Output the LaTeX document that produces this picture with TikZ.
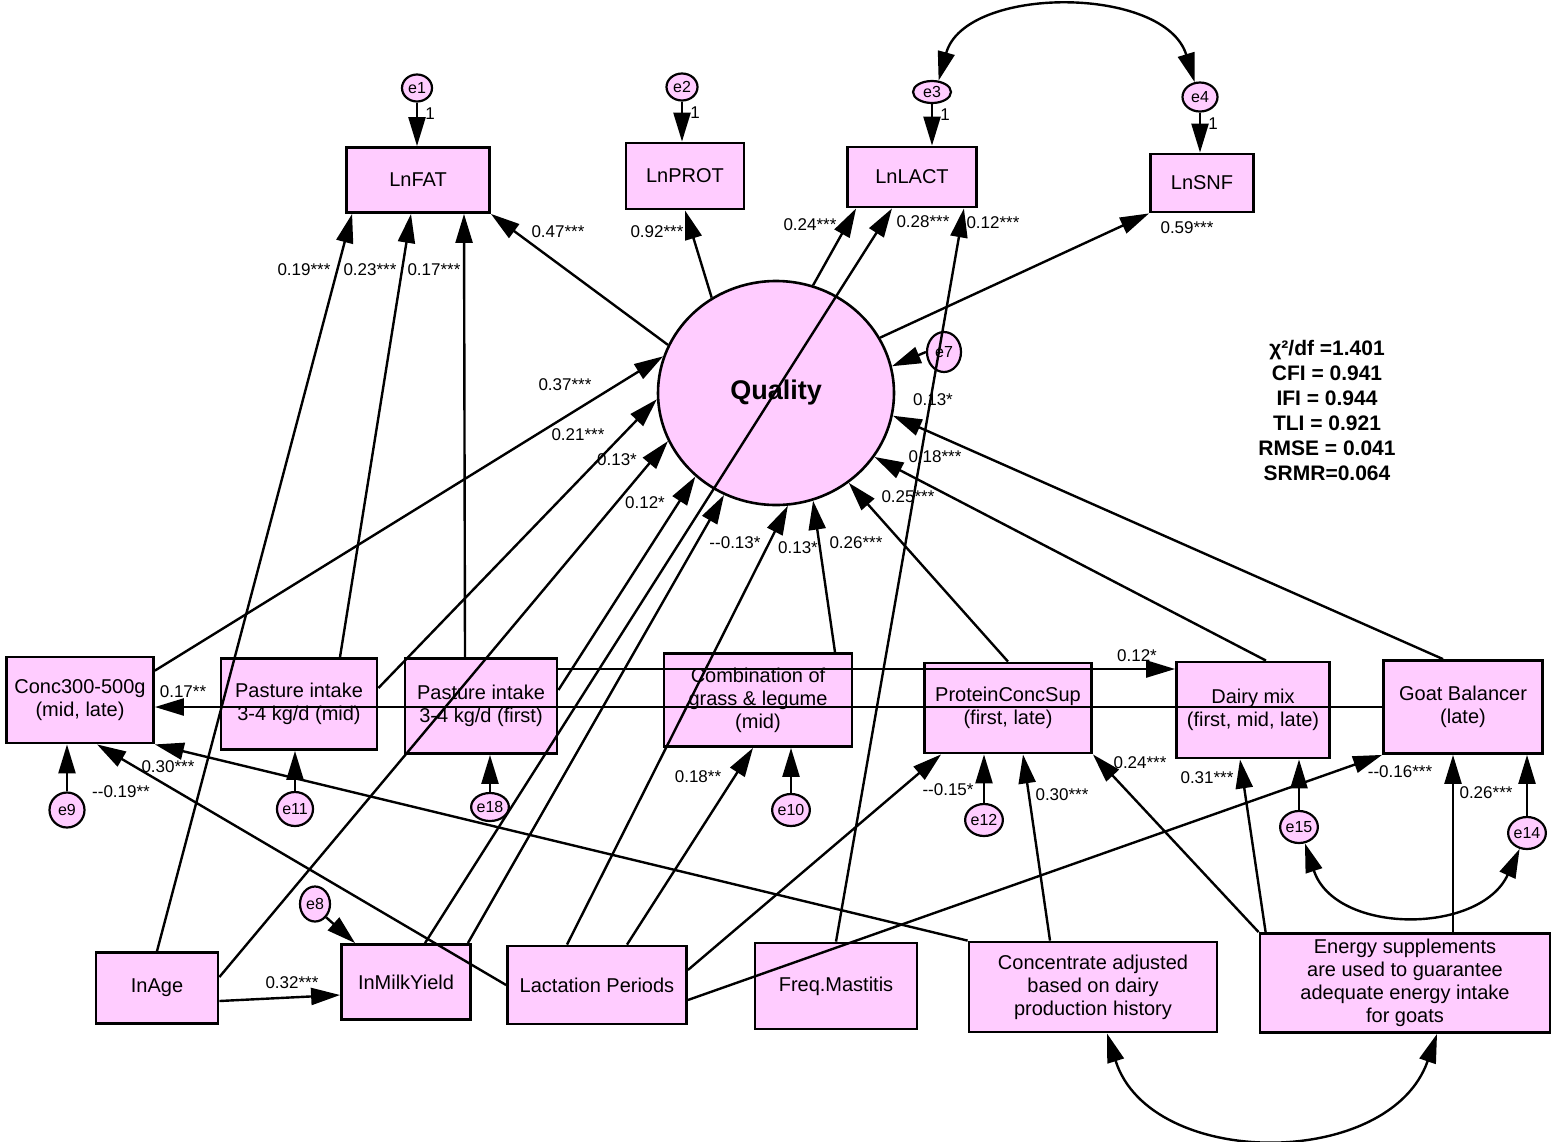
\documentclass[tikz,border=0pt]{standalone}
\usepackage{fontspec}
\setmainfont{Liberation Sans}
\usepackage{tikz}
\usepackage{xcolor}
\usetikzlibrary{arrows.meta, shapes.geometric}
\definecolor{boxpink}{RGB}{255,204,255}

\begin{document}
\begin{tikzpicture}[x=1pt, y=-1pt,
    >={Triangle[length=29pt,width=17pt]},
    obs/.style={draw, line width=2.8pt, fill=boxpink, align=center,
        font=\fontsize{20}{23}\selectfont, inner sep=0pt},
    err/.style={draw, ellipse, line width=2.2pt, fill=boxpink, inner sep=0pt,
        font=\fontsize{16}{16}\selectfont},
    arr/.style={->, line width=2.4pt},
    cov/.style={<->, line width=2.4pt},
    coef/.style={font=\fontsize{17}{17}\selectfont, inner sep=0pt}]
    \useasboundingbox (0,0) rectangle (1562,1141);

    % Milk components
    \node[obs, minimum width=143pt, minimum height=65pt] (fat)  at (418,180) {LnFAT};
    \node[obs, minimum width=118pt, minimum height=66pt] (prot) at (685,176) {LnPROT};
    \node[obs, minimum width=129pt, minimum height=60pt] (lact) at (912,177) {LnLACT};
    \node[obs, minimum width=103pt, minimum height=58pt] (snf)  at (1202,183) {LnSNF};

    % Latent variable
    \node[draw, ellipse, line width=2.6pt, fill=boxpink, minimum width=236pt, minimum height=224pt,
        font=\fontsize{27}{27}\selectfont\bfseries] (quality) at (776,393) {Quality};

    % Feeding practices
    \node[obs, minimum width=147pt, minimum height=86pt] (conc)      at (80,700)   {Conc300-500g\\(mid, late)};
    \node[obs, minimum width=156pt, minimum height=91pt] (pastmid)   at (299,704)  {Pasture intake\\3-4 kg/d (mid)};
    \node[obs, minimum width=152pt, minimum height=95pt] (pastfirst) at (481,706)  {Pasture intake\\3-4 kg/d (first)};
    \node[obs, minimum width=188pt, minimum height=93pt] (combi)     at (758,700)  {Combination of\\grass \& legume\\(mid)};
    \node[obs, minimum width=167pt, minimum height=90pt] (protein)   at (1008,708) {ProteinConcSup\\(first, late)};
    \node[obs, minimum width=153pt, minimum height=96pt] (dairy)     at (1253,710) {Dairy mix\\(first, mid, late)};
    \node[obs, minimum width=159pt, minimum height=93pt] (goat)      at (1463,707) {Goat Balancer\\(late)};

    % Animal and management variables
    \node[obs, minimum width=122pt, minimum height=71pt] (age)      at (157,988)  {InAge};
    \node[obs, minimum width=129pt, minimum height=75pt] (milk)     at (406,982)  {InMilkYield};
    \node[obs, minimum width=179pt, minimum height=78pt] (lactper)  at (597,985)  {Lactation Periods};
    \node[obs, minimum width=162pt, minimum height=86pt] (mastitis) at (836,986)  {Freq.Mastitis};
    \node[obs, minimum width=248pt, minimum height=90pt] (concadj)  at (1093,987) {Concentrate adjusted\\based on dairy\\production history};
    \node[obs, minimum width=290pt, minimum height=99pt] (energy)   at (1405,983) {Energy supplements\\are used to guarantee\\adequate energy intake\\for goats};

    % Error terms
    \node[err, minimum width=30pt, minimum height=27pt] (e1) at (417,88)  {e1};
    \node[err, minimum width=31pt, minimum height=27pt] (e2) at (682,87)  {e2};
    \node[err, minimum width=38pt, minimum height=22pt] (e3) at (932,92)  {e3};
    \node[err, minimum width=35pt, minimum height=29pt] (e4) at (1200,97) {e4};
    \node[err, minimum width=34pt, minimum height=40pt] (e7) at (944,352) {e7};
    \node[err, minimum width=30pt, minimum height=35pt] (e8) at (315,904) {e8};
    \node[err, minimum size=35pt] (e9)  at (67,810)   {e9};
    \node[err, minimum size=34pt] (e11) at (295,809)  {e11};
    \node[err, minimum size=28pt] (e18) at (490,807)  {e18};
    \node[err, minimum size=32pt] (e10) at (791,810)  {e10};
    \node[err, minimum size=32pt] (e12) at (984,820)  {e12};
    \node[err, minimum size=32pt] (e15) at (1299,827) {e15};
    \node[err, minimum size=32pt] (e14) at (1527,833) {e14};

    % Error arrows
    \foreach \e/\v in {e1/fat, e2/prot, e3/lact, e4/snf}
        \draw[arr] (\e.south) -- (\e.south |- \v.north);
    \foreach \e in {e1, e2, e3, e4}
        \node[coef] (one\e) at ([xshift=13pt, yshift=-11pt]\e.south) {1};
    \foreach \e/\v in {e9/conc, e11/pastmid, e18/pastfirst, e10/combi, e12/protein, e15/dairy, e14/goat}
        \draw[arr] (\e.north) -- (\e.north |- \v.south);
    \draw[arr] (e7.west) -- (quality.13);
    \draw[arr] (e8.-50) -- ([xshift=15pt]milk.north west);

    % Loadings of Quality
    \draw[arr] (quality.156) -- (fat.south east);
    \draw[arr] (quality.124) -- (prot.south);
    \draw[arr] (quality.71) -- ([xshift=10pt]lact.south west);
    \draw[arr] (quality.28) -- (snf.south west);

    % Direct paths to the components
    \draw[arr] (age.north) -- ([xshift=7pt]fat.south west);
    \draw[arr] ([xshift=41pt]pastmid.north) -- ([xshift=-7pt]fat.south);
    \draw[arr] ([xshift=-16pt]pastfirst.north) -- ([xshift=46pt]fat.south);
    \draw[arr] ([xshift=19pt]milk.north) -- ([xshift=-20pt]lact.south);
    \draw[arr] (mastitis.north) -- ([xshift=-14pt]lact.south east);

    % Paths to Quality
    \draw[arr] ([yshift=-15pt]conc.north east) -- (quality.162);
    \draw[arr] ([yshift=16pt]pastmid.east) -- (quality.183);
    \draw[arr] ([yshift=11pt]age.east) -- (quality.204);
    \draw[arr] ([yshift=16pt]pastfirst.east) -- (quality.226);
    \draw[arr] ([xshift=-4pt]milk.north east) -- (quality.243);
    \draw[arr] ([xshift=-30pt]lactper.north) -- (quality.276);
    \draw[arr] ([xshift=77pt]combi.north) -- (quality.289);
    \draw[arr] (protein.north) -- (quality.309);
    \draw[arr] ([xshift=13pt]dairy.north) -- (quality.327);
    \draw[arr] ([xshift=-20pt]goat.north) -- (quality.349);

    % Paths between the predictors
    \draw[arr] (goat.west) -- (goat.west -| conc.east);
    \draw[arr] (concadj.north west) -- (conc.south east);
    \draw[arr] (lactper.west) -- ([xshift=17pt]conc.south);
    \draw[arr] ([yshift=37pt]pastfirst.east) -- ([yshift=37pt]pastfirst.east -| dairy.west);
    \draw[arr] ([xshift=30pt]lactper.north) -- ([xshift=-5pt]combi.south);
    \draw[arr] ([yshift=15pt]lactper.east) -- ([xshift=18pt]protein.south west);
    \draw[arr] ([xshift=-43pt]concadj.north) -- ([xshift=15pt]protein.south);
    \draw[arr] (energy.north west) -- (protein.south east);
    \draw[arr] ([xshift=7pt]energy.north west) -- ([xshift=-13pt]dairy.south);
    \draw[arr] ([yshift=-15pt]lactper.east) -- (goat.south west);
    \draw[arr] ([xshift=48pt]energy.north) -- ([xshift=-10pt]goat.south);
    \draw[arr] ([yshift=-13pt]age.east) -- ([yshift=-13pt]milk.west);

    % Covariances
    \draw[cov] (e3.60) .. controls (965,-15) and (1165,-15) .. (e4.110);
    \draw[cov] (e15.-70) .. controls (1335,935) and (1480,935) .. (e14.-115);
    \draw[cov] ([xshift=14pt]concadj.south) .. controls (1150,1170) and (1390,1170) .. ([xshift=32pt]energy.south);

    % Coefficients
    \node[coef] (c1)  at (304,270)  {0.19***};
    \node[coef] (c2)  at (370,270)  {0.23***};
    \node[coef] (c3)  at (434,270)  {0.17***};
    \node[coef] (c4)  at (558,232)  {0.47***};
    \node[coef] (c5)  at (657,232)  {0.92***};
    \node[coef] (c6)  at (810,225)  {0.24***};
    \node[coef] (c7)  at (923,222)  {0.28***};
    \node[coef] (c8)  at (993,223)  {0.12***};
    \node[coef] (c9)  at (1187,228) {0.59***};
    \node[coef] (c10) at (565,385)  {0.37***};
    \node[coef] (c11) at (578,435)  {0.21***};
    \node[coef] (c12) at (617,460)  {0.13*};
    \node[coef] (c13) at (645,503)  {0.12*};
    \node[coef] (c14) at (735,543)  {-{}-0.13*};
    \node[coef] (c15) at (798,548)  {0.13*};
    \node[coef] (c16) at (856,543)  {0.26***};
    \node[coef] (c17) at (908,497)  {0.25***};
    \node[coef] (c18) at (935,457)  {0.18***};
    \node[coef] (c19) at (933,400)  {0.13*};
    \node[coef] (c20) at (183,692)  {0.17**};
    \node[coef] (c21) at (168,767)  {0.30***};
    \node[coef] (c22) at (121,792)  {-{}-0.19**};
    \node[coef] (c23) at (698,777)  {0.18**};
    \node[coef] (c24) at (948,790)  {-{}-0.15*};
    \node[coef] (c25) at (1062,795) {0.30***};
    \node[coef] (c26) at (1137,656) {0.12*};
    \node[coef] (c27) at (1140,763) {0.24***};
    \node[coef] (c28) at (1207,778) {0.31***};
    \node[coef] (c29) at (1400,772) {-{}-0.16***};
    \node[coef] (c30) at (1486,793) {0.26***};
    \node[coef] (c31) at (292,983)  {0.32***};

    % Fit indices
    \node[align=center, font=\fontsize{21}{25}\selectfont\bfseries] (fit) at (1327,410)
        {χ²/df =1.401\\CFI = 0.941\\IFI = 0.944\\TLI = 0.921\\RMSE = 0.041\\SRMR=0.064};
\end{tikzpicture}
\end{document}
